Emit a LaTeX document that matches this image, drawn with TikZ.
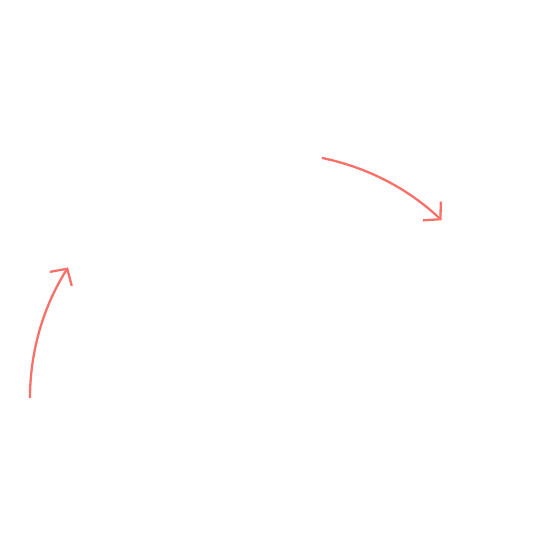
\documentclass[tikz,border=0pt]{standalone}
\usepackage{tikz}
\usetikzlibrary{arrows.meta,calc}
\definecolor{arrowred}{RGB}{248,112,104}
\definecolor{ghost}{RGB}{254,246,246}

\begin{document}
\begin{tikzpicture}[
  dot/.style={circle,minimum size=2.9mm,inner sep=0pt,draw=ghost,densely dotted,line width=0.2pt},
  turn/.style={-{Straight Barb[length=1.2mm,width=2.6mm]},draw=arrowred,line width=0.65pt}]
  \useasboundingbox (0,0) rectangle (5.51,5.51);
  \def\R{2.45}\def\ra{2.43}
  \coordinate (O) at (2.73,1.53);
  % ring of faint markers, every ten degrees
  \foreach \i in {0,...,18}
    \node[dot] (m\i) at ($(O)+(\i*10:\R)$) {};
  % first turn
  \coordinate (s1) at ($(O)+(180:\ra)$);
  \draw[turn] (s1) arc (180:147.5:\ra) coordinate (e1);
  % second turn
  \coordinate (s2) at ($(O)+(78.5:\ra+0.02)$);
  \draw[turn] (s2) arc (78.5:46.5:\ra+0.02) coordinate (e2);
\end{tikzpicture}
\end{document}
